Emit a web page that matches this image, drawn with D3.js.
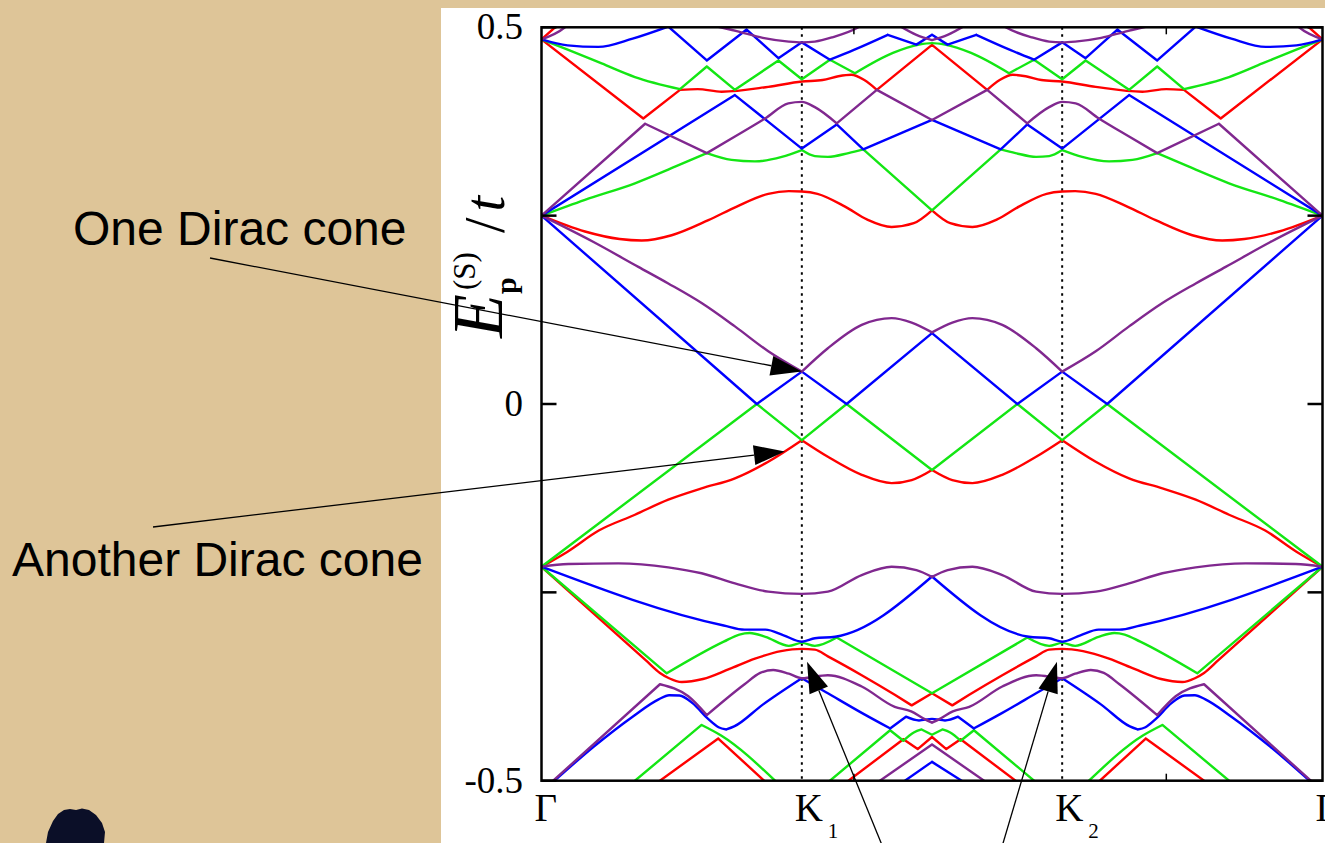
<!DOCTYPE html>
<html>
<head>
<meta charset="utf-8">
<script src="https://cdn.jsdelivr.net/npm/d3@7"></script>
<style>
  html, body { margin: 0; padding: 0; background: #ffffff; }
  svg { display: block; }
</style>
</head>
<body>
<svg id="chart" width="1325" height="843"></svg>
<script>
// ---- path through the zone: Γ – K1 – K2 – Γ (in units of segments) ----
const kPoints = [0, 1, 2, 3];
const kLabels = [["Γ", ""], ["K", "1"], ["K", "2"], ["Γ", ""]];
const kMinorTicks = [1.2, 2.4];
const eTicks = [-0.5, -0.25, 0, 0.25, 0.5];
const eTickLabels = ["-0.5", "", "0", "", "0.5"];

// ---- bands: [k, E/t] ----
// red
const red1 = [[0,0.25],[0.167,0.229],[0.3,0.219],[0.385,0.217],[0.5,0.224],[0.641,0.244],[0.75,0.262],[0.871,0.279],[0.95,0.2825],[1,0.282],[1.06,0.279],[1.166,0.262],[1.25,0.245],[1.345,0.235],[1.43,0.24],[1.5,0.257],[1.57,0.24],[1.655,0.235],[1.75,0.245],[1.834,0.262],[1.94,0.279],[2,0.282],[2.05,0.2825],[2.129,0.279],[2.25,0.262],[2.359,0.244],[2.5,0.224],[2.615,0.217],[2.7,0.219],[2.833,0.229],[3,0.25]];
const red2 = [[0,0.484],[0.391,0.379],[0.532,0.417],[0.6,0.418],[0.692,0.4145],[0.871,0.421],[1,0.428],[1.08,0.43],[1.14,0.435],[1.19,0.437],[1.24,0.43],[1.288,0.417],[1.5,0.4766],[1.712,0.417],[1.76,0.43],[1.81,0.437],[1.86,0.435],[1.92,0.43],[2,0.428],[2.129,0.421],[2.308,0.4145],[2.4,0.418],[2.468,0.417],[2.609,0.379],[3,0.484]];
const red3 = [[0,0.484],[0.052,0.5],[0.06,0.505]];
const red4 = [[2.94,0.505],[2.948,0.5],[3,0.484]];
const red5 = [[0,-0.216],[0.1,-0.196],[0.22,-0.168],[0.359,-0.147],[0.487,-0.127],[0.615,-0.112],[0.743,-0.0987],[0.871,-0.0766],[1,-0.048],[1.1,-0.07],[1.23,-0.094],[1.345,-0.105],[1.422,-0.101],[1.5,-0.0876],[1.578,-0.101],[1.655,-0.105],[1.77,-0.094],[1.9,-0.07],[2,-0.048],[2.129,-0.0766],[2.257,-0.0987],[2.385,-0.112],[2.513,-0.127],[2.641,-0.147],[2.78,-0.168],[2.9,-0.196],[3,-0.216]];
const red6 = [[0,-0.216],[0.4,-0.34],[0.455,-0.357],[0.49,-0.364],[0.539,-0.369],[0.62,-0.365],[0.72,-0.352],[0.82,-0.338],[0.92,-0.328],[1,-0.325],[1.05,-0.326],[1.1,-0.335],[1.23,-0.36],[1.357,-0.386],[1.422,-0.4],[1.5,-0.384],[1.578,-0.4],[1.643,-0.386],[1.77,-0.36],[1.9,-0.335],[1.95,-0.326],[2,-0.325],[2.08,-0.328],[2.18,-0.338],[2.28,-0.352],[2.38,-0.365],[2.461,-0.369],[2.51,-0.364],[2.545,-0.357],[2.6,-0.34],[3,-0.216]];
const red7 = [[0.455,-0.5],[0.679,-0.444],[0.855,-0.5]];
const red8 = [[2.145,-0.5],[2.321,-0.444],[2.545,-0.5]];
const red9 = [[1.179,-0.5],[1.39,-0.445],[1.445,-0.458],[1.5,-0.442],[1.555,-0.458],[1.61,-0.445],[1.821,-0.5]];

// green
const green1 = [[0,0.25],[0.167,0.271],[0.359,0.293],[0.513,0.315],[0.635,0.333],[0.73,0.324],[0.82,0.322],[0.923,0.328],[1,0.337],[1.05,0.329],[1.1,0.328],[1.179,0.333],[1.236,0.338],[1.5,0.257],[1.764,0.338],[1.821,0.333],[1.9,0.328],[1.95,0.329],[2,0.337],[2.077,0.328],[2.18,0.322],[2.27,0.324],[2.365,0.333],[2.487,0.315],[2.641,0.293],[2.833,0.271],[3,0.25]];
const green2 = [[0,0.484],[0.103,0.47],[0.231,0.452],[0.359,0.434],[0.532,0.418],[0.635,0.448],[0.743,0.417],[0.91,0.456],[1,0.431],[1.108,0.457],[1.204,0.439],[1.35,0.466],[1.45,0.477],[1.5,0.479],[1.55,0.477],[1.65,0.466],[1.796,0.439],[1.892,0.457],[2,0.431],[2.09,0.456],[2.257,0.417],[2.365,0.448],[2.468,0.418],[2.641,0.434],[2.769,0.452],[2.897,0.47],[3,0.484]];
const green3 = [[0,-0.216],[0.827,0],[1,-0.048],[1.172,0],[1.5,-0.0876],[1.828,0],[2,-0.048],[2.173,0],[3,-0.216]];
const green4 = [[0,-0.216],[0.481,-0.3575],[0.7,-0.3155],[0.76,-0.306],[0.8,-0.304],[0.86,-0.309],[0.95,-0.321],[1,-0.317],[1.05,-0.321],[1.134,-0.31],[1.5,-0.384],[1.866,-0.31],[1.95,-0.321],[2,-0.317],[2.05,-0.321],[2.14,-0.309],[2.2,-0.304],[2.24,-0.306],[2.3,-0.3155],[2.519,-0.3575],[3,-0.216]];
const green5 = [[0.359,-0.5],[0.615,-0.426],[0.69,-0.44],[0.897,-0.5]];
const green6 = [[2.103,-0.5],[2.31,-0.44],[2.385,-0.426],[2.641,-0.5]];
const green7 = [[1.108,-0.5],[1.339,-0.433],[1.39,-0.447],[1.43,-0.436],[1.46,-0.432],[1.5,-0.439],[1.54,-0.432],[1.57,-0.436],[1.61,-0.447],[1.661,-0.433],[1.892,-0.5]];

// blue
const blue1 = [[0,0.25],[0.743,0.41],[1,0.339],[1.134,0.371],[1.236,0.338],[1.5,0.377],[1.764,0.338],[1.866,0.371],[2,0.339],[2.257,0.41],[3,0.25]];
const blue2 = [[0,0.484],[0.1,0.476],[0.218,0.474],[0.35,0.485],[0.487,0.501],[0.635,0.456],[0.788,0.497],[0.91,0.459],[1,0.48],[1.108,0.457],[1.2,0.47],[1.33,0.49],[1.44,0.477],[1.5,0.49],[1.56,0.477],[1.67,0.49],[1.8,0.47],[1.892,0.457],[2,0.48],[2.09,0.459],[2.212,0.497],[2.365,0.456],[2.513,0.501],[2.65,0.485],[2.782,0.474],[2.9,0.476],[3,0.484]];
const blue3 = [[0,0.25],[0.827,0],[1,0.043],[1.172,0],[1.5,0.094],[1.828,0],[2,0.043],[2.173,0],[3,0.25]];
const blue4 = [[0,-0.216],[0.7,-0.294],[0.78,-0.2995],[0.86,-0.2995],[0.93,-0.307],[1,-0.3155],[1.05,-0.311],[1.128,-0.309],[1.5,-0.229],[1.872,-0.309],[1.95,-0.311],[2,-0.3155],[2.07,-0.307],[2.14,-0.2995],[2.22,-0.2995],[2.3,-0.294],[3,-0.216]];
const blue5 = [[0.05,-0.5],[0.2,-0.455],[0.35,-0.415],[0.45,-0.392],[0.49,-0.3865],[0.53,-0.387],[0.58,-0.397],[0.64,-0.418],[0.68,-0.429],[0.71,-0.432],[0.74,-0.428],[0.85,-0.399],[1,-0.364],[1.1,-0.384],[1.23,-0.41],[1.339,-0.4306],[1.4,-0.415],[1.45,-0.42],[1.5,-0.418],[1.55,-0.42],[1.6,-0.415],[1.661,-0.4306],[1.77,-0.41],[1.9,-0.384],[2,-0.364],[2.15,-0.399],[2.26,-0.428],[2.29,-0.432],[2.32,-0.429],[2.36,-0.418],[2.42,-0.397],[2.47,-0.387],[2.51,-0.3865],[2.55,-0.392],[2.65,-0.415],[2.8,-0.455],[2.95,-0.5]];
const blue6 = [[1.396,-0.5],[1.5,-0.475],[1.614,-0.5]];

// purple
const purple1 = [[0,0.25],[0.398,0.372],[0.635,0.333],[0.743,0.355],[0.859,0.379],[0.948,0.399],[1,0.401],[1.05,0.394],[1.134,0.3725],[1.288,0.417],[1.5,0.377],[1.712,0.417],[1.866,0.3725],[1.95,0.394],[2,0.401],[2.052,0.399],[2.141,0.379],[2.257,0.355],[2.365,0.333],[2.602,0.372],[3,0.25]];
const purple2 = [[0,0.484],[0.09,0.5],[0.1,0.503]];
const purple3 = [[2.9,0.503],[2.91,0.5],[3,0.484]];
const purple4 = [[0.62,0.505],[0.75,0.495],[0.85,0.486],[0.95,0.481],[1,0.48],[1.05,0.481],[1.12,0.487],[1.217,0.5],[1.24,0.505]];
const purple5 = [[1.76,0.505],[1.783,0.5],[1.88,0.487],[1.95,0.481],[2,0.48],[2.05,0.481],[2.15,0.486],[2.25,0.495],[2.38,0.505]];
const purple6 = [[1.36,0.505],[1.44,0.49],[1.5,0.483],[1.56,0.49],[1.64,0.505]];
const purple7 = [[0,0.25],[0.2,0.215],[0.372,0.182],[0.487,0.16],[0.615,0.134],[0.743,0.103],[0.871,0.07],[1,0.043],[1.1,0.074],[1.23,0.105],[1.345,0.114],[1.422,0.108],[1.5,0.095],[1.578,0.108],[1.655,0.114],[1.77,0.105],[1.9,0.074],[2,0.043],[2.129,0.07],[2.257,0.103],[2.385,0.134],[2.513,0.16],[2.628,0.182],[2.8,0.215],[3,0.25]];
const purple8 = [[0,-0.216],[0.103,-0.2124],[0.295,-0.2115],[0.487,-0.2168],[0.615,-0.2247],[0.743,-0.238],[0.871,-0.249],[1,-0.252],[1.1,-0.249],[1.23,-0.227],[1.345,-0.216],[1.44,-0.2205],[1.5,-0.2295],[1.56,-0.2205],[1.655,-0.216],[1.77,-0.227],[1.9,-0.249],[2,-0.252],[2.129,-0.249],[2.257,-0.238],[2.385,-0.2247],[2.513,-0.2168],[2.705,-0.2115],[2.897,-0.2124],[3,-0.216]];
const purple9 = [[0.045,-0.5],[0.455,-0.372],[0.564,-0.388],[0.635,-0.413],[0.78,-0.372],[0.84,-0.357],[0.89,-0.353],[0.95,-0.358],[1,-0.364],[1.1,-0.36],[1.23,-0.375],[1.357,-0.402],[1.42,-0.408],[1.47,-0.418],[1.5,-0.423],[1.53,-0.418],[1.58,-0.408],[1.643,-0.402],[1.77,-0.375],[1.9,-0.36],[2,-0.364],[2.05,-0.358],[2.11,-0.353],[2.16,-0.357],[2.22,-0.372],[2.365,-0.413],[2.436,-0.388],[2.545,-0.372],[2.955,-0.5]];
const purple10 = [[1.3,-0.5],[1.5,-0.452],[1.7,-0.5]];

const redBands = [red1, red2, red3, red4, red5, red6, red7, red8, red9];
const greenBands = [green1, green2, green3, green4, green5, green6, green7];
const blueBands = [blue1, blue2, blue3, blue4, blue5, blue6];
const purpleBands = [purple1, purple2, purple3, purple4, purple5, purple6, purple7, purple8, purple9, purple10];

// ---- annotations: tip in data space, tail in page space ----
const noteTexts = ["One Dirac cone", "Another Dirac cone"];
const noteTips = [[1, 0.043], [0.935, -0.063], [1.02, -0.342], [1.98, -0.342]];

// ------------------------------------------------------------------
const svg = d3.select("#chart");
const W = 1325, H = 843;
const tan = "#dec598";

svg.append("rect").attr("width", W).attr("height", H).attr("fill", "#ffffff");
svg.append("rect").attr("x", 0).attr("y", 0).attr("width", 441).attr("height", H).attr("fill", tan);
svg.append("rect").attr("x", 0).attr("y", 0).attr("width", W).attr("height", 8).attr("fill", tan);

// small dark shape at the lower left corner of the slide
svg.append("path")
  .attr("d", "M46,843 L48,832 L53,821 L58,814 L64,810 L70,809 L76,810 L82,808.5 L89,810 L96,815 L102,823 L105,832 L104,843 Z")
  .attr("fill", "#0b0f28");

const x = d3.scaleLinear().domain([0, 3]).range([541.5, 1322.5]);
const y = d3.scaleLinear().domain([-0.5, 0.5]).range([780.7, 27.3]);
const [x0, x1] = x.range();
const [y0, y1] = [y(0.5), y(-0.5)];

svg.append("defs").append("clipPath").attr("id", "plotclip")
  .append("rect").attr("x", x0).attr("y", y0).attr("width", x1 - x0).attr("height", y1 - y0);

// split a band where its slope turns sharply, then smooth each piece
function pieces(pts) {
  const out = [];
  let cur = [pts[0]];
  for (let i = 1; i < pts.length; i++) {
    cur.push(pts[i]);
    if (i < pts.length - 1) {
      const s1 = (pts[i][1] - pts[i-1][1]) / (pts[i][0] - pts[i-1][0]);
      const s2 = (pts[i+1][1] - pts[i][1]) / (pts[i+1][0] - pts[i][0]);
      const turn = (s1 * s2 < 0 && Math.min(Math.abs(s1), Math.abs(s2)) > 0.12) || Math.abs(s2 - s1) > 0.22;
      if (turn) { out.push(cur); cur = [pts[i]]; }
    }
  }
  out.push(cur);
  return out;
}
const line = d3.line().x(d => x(d[0])).y(d => y(d[1])).curve(d3.curveMonotoneX);
const bandPath = pts => pieces(pts).map(p => line(p)).join("");

const plot = svg.append("g").attr("clip-path", "url(#plotclip)");

// high-symmetry verticals
plot.selectAll("line.ksym").data(kPoints.slice(1, 3)).enter().append("line")
  .attr("x1", d => x(d)).attr("x2", d => x(d)).attr("y1", y0).attr("y2", y1)
  .attr("stroke", "#000").attr("stroke-width", 2).attr("stroke-dasharray", "2.5,4.5");

const groups = [
  [redBands, "#ff0000"],
  [greenBands, "#14e614"],
  [blueBands, "#0000ff"],
  [purpleBands, "#80288f"]
];
groups.forEach(([bands, col]) => {
  plot.append("g").selectAll("path").data(bands).enter().append("path")
    .attr("d", bandPath)
    .attr("fill", "none").attr("stroke", col).attr("stroke-width", 2.4)
    .attr("stroke-linecap", "round").attr("stroke-linejoin", "round");
});

// frame
svg.append("rect").attr("x", x0).attr("y", y0).attr("width", x1 - x0).attr("height", y1 - y0)
  .attr("fill", "none").attr("stroke", "#000").attr("stroke-width", 2.5);

// energy ticks (both sides, inward)
eTicks.forEach((e, i) => {
  svg.append("line").attr("x1", x0).attr("x2", x0 + 15).attr("y1", y(e)).attr("y2", y(e))
    .attr("stroke", "#000").attr("stroke-width", 2.5);
  svg.append("line").attr("x1", x1 - 15).attr("x2", x1).attr("y1", y(e)).attr("y2", y(e))
    .attr("stroke", "#000").attr("stroke-width", 2.5);
  if (eTickLabels[i]) {
    svg.append("text").attr("x", 523).attr("y", y(e) + 12)
      .attr("text-anchor", "end").attr("font-family", "Liberation Serif, serif")
      .attr("font-size", 37).text(eTickLabels[i]);
  }
});

// minor k ticks on top and bottom edges
kMinorTicks.forEach(k => {
  svg.append("line").attr("x1", x(k)).attr("x2", x(k)).attr("y1", y0).attr("y2", y0 + 7)
    .attr("stroke", "#000").attr("stroke-width", 1.5);
  svg.append("line").attr("x1", x(k)).attr("x2", x(k)).attr("y1", y1 - 7).attr("y2", y1)
    .attr("stroke", "#000").attr("stroke-width", 1.5);
});

// k-point labels
kPoints.forEach((k, i) => {
  const [main, sub] = kLabels[i];
  svg.append("text").attr("font-family", "Liberation Serif, serif")
    .attr("x", x(k) - 7).attr("y", 821).attr("font-size", 39).text(main);
  if (sub) {
    svg.append("text").attr("font-family", "Liberation Serif, serif")
      .attr("x", x(k) + 26).attr("y", 838).attr("font-size", 21).text(sub);
  }
});

// energy axis title, rotated
const yt = svg.append("g").attr("transform", "translate(502,340) rotate(-90)")
  .attr("font-family", "Liberation Serif, serif");
yt.append("text").attr("x", 2).attr("y", 0).attr("font-size", 72).attr("font-style", "italic").text("E");
yt.append("text").attr("x", 50).attr("y", -27).attr("font-size", 31).text("(S)");
yt.append("text").attr("x", 46).attr("y", 14).attr("font-size", 30).attr("font-weight", "bold").text("p");
const slash = yt.append("text").attr("x", 107).attr("y", 2).attr("font-size", 56);
slash.append("tspan").text("/");
slash.append("tspan").attr("font-style", "italic").attr("dx", 6).text("t");

// annotations
const tails = [[210, 258], [153, 527], [884, 850], [1001, 850]];
function arrow(tail, tipData) {
  const tip = [x(tipData[0]), y(tipData[1])];
  const dx = tip[0] - tail[0], dy = tip[1] - tail[1];
  const L = Math.hypot(dx, dy), ux = dx / L, uy = dy / L;
  const hl = 31, hw = 10;
  const base = [tip[0] - ux * hl, tip[1] - uy * hl];
  svg.append("line").attr("x1", tail[0]).attr("y1", tail[1]).attr("x2", base[0]).attr("y2", base[1])
    .attr("stroke", "#000").attr("stroke-width", 1.3);
  svg.append("path")
    .attr("d", `M${tip[0]},${tip[1]} L${base[0] - uy * hw},${base[1] + ux * hw} L${base[0] + uy * hw},${base[1] - ux * hw} Z`)
    .attr("fill", "#000");
}
noteTips.forEach((t, i) => arrow(tails[i], t));

svg.append("text").attr("x", 73).attr("y", 245).attr("font-family", "Liberation Sans, Arial, sans-serif")
  .attr("font-size", 48).text(noteTexts[0]);
svg.append("text").attr("x", 12).attr("y", 576).attr("font-family", "Liberation Sans, Arial, sans-serif")
  .attr("font-size", 48).text(noteTexts[1]);
</script>
</body>
</html>
